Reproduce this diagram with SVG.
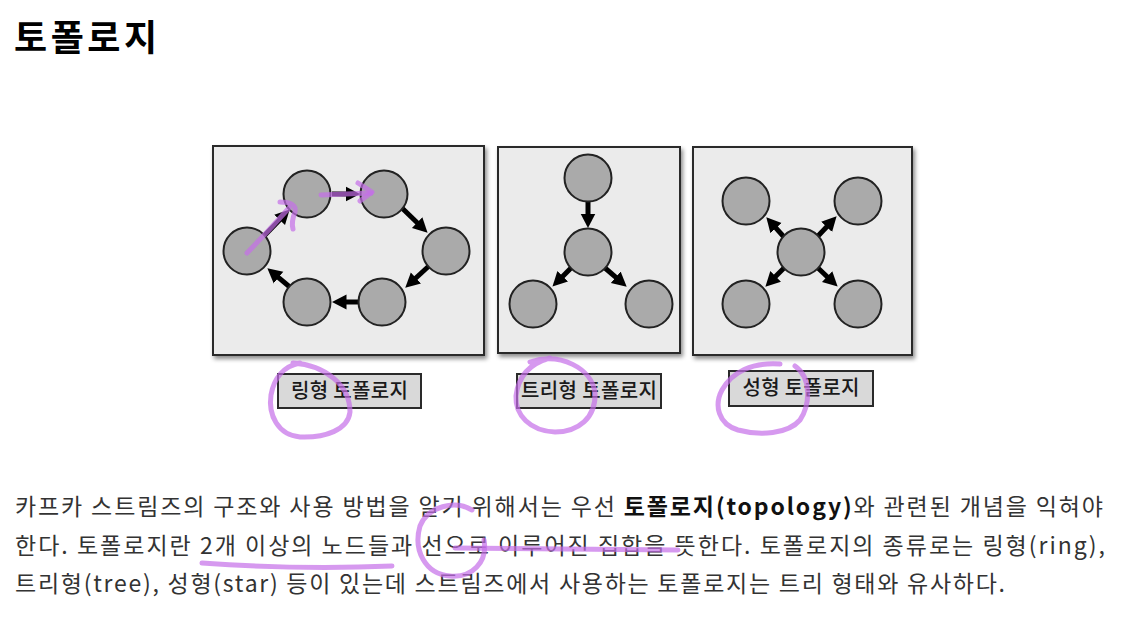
<svg xmlns="http://www.w3.org/2000/svg" width="1122" height="623" viewBox="0 0 1122 623">
<style>
.panel{fill:#ebebeb;stroke:#2a2a2a;stroke-width:2;filter:url(#sh)}
.node{fill:#aaaaaa;stroke:#222;stroke-width:2}
.arr{stroke:#000;stroke-width:5;fill:none;marker-end:url(#ah)}
.lbox{fill:#d9d9d9;stroke:#2a2a2a;stroke-width:2}
.ltxt{font-family:"Noto Sans CJK KR","Noto Sans",sans-serif;font-size:20px;font-weight:500;fill:#1a1a1a;text-anchor:middle}
.body{font-family:"Noto Sans CJK KR","Noto Sans",sans-serif;font-size:23px;fill:#333}
.title{font-family:"Noto Sans CJK KR","Noto Sans",sans-serif;font-size:36px;font-weight:bold;fill:#000}
.pen{fill:none;stroke:#c56ee8;stroke-opacity:0.7;stroke-width:5;stroke-linecap:round;stroke-linejoin:round}
</style>
<defs>
<filter id="sh" x="-10%" y="-10%" width="125%" height="125%">
<feDropShadow dx="2" dy="3" stdDeviation="2" flood-color="#000" flood-opacity="0.45"/>
</filter>
<marker id="ah" markerUnits="userSpaceOnUse" markerWidth="18" markerHeight="18" refX="3" refY="9" orient="auto">
<path d="M0,1.5 L14.5,9 L0,16.5 z" fill="#000"/>
</marker>
</defs>
<rect width="1122" height="623" fill="#fff"/>
<text class="title" x="14" y="51" textLength="143">토폴로지</text>

<g id="ring-panel">
<rect class="panel" x="213" y="146" width="271" height="209"/>
</g>
<g id="tree-panel">
<rect class="panel" x="498" y="147" width="182" height="206"/>
</g>
<g id="star-panel">
<rect class="panel" x="693" y="147" width="219" height="208"/>
</g>

<g id="connectors">
<line class="arr" x1="264" y1="236" x2="281.7" y2="217.7"/>
<line class="arr" x1="332" y1="194" x2="348.5" y2="194"/>
<line class="arr" x1="402" y1="208" x2="419.3" y2="224.7"/>
<line class="arr" x1="430" y1="265" x2="413.7" y2="280"/>
<line class="arr" x1="358" y1="302" x2="343.5" y2="302"/>
<line class="arr" x1="291" y1="288" x2="276.2" y2="275.7"/>
<line class="arr" x1="588" y1="202" x2="588" y2="216.5"/>
<line class="arr" x1="571" y1="268" x2="560.6" y2="278.4"/>
<line class="arr" x1="605" y1="268" x2="618" y2="279.2"/>
<line class="arr" x1="784" y1="237" x2="774" y2="225.9"/>
<line class="arr" x1="818" y1="236" x2="828.7" y2="224.7"/>
<line class="arr" x1="784" y1="268" x2="773.5" y2="278.5"/>
<line class="arr" x1="818" y1="268" x2="829.3" y2="278.7"/>
</g>

<g id="ring-nodes">
<circle id="r1" class="node" cx="307" cy="194" r="23.5"/>
<circle id="r2" class="node" cx="384" cy="194" r="23.5"/>
<circle id="r3" class="node" cx="446" cy="251" r="23.5"/>
<circle id="r4" class="node" cx="382" cy="302" r="23.5"/>
<circle id="r5" class="node" cx="307" cy="302" r="23.5"/>
<circle id="r6" class="node" cx="247" cy="251" r="23.5"/>
</g>
<g id="tree-nodes">
<circle id="t1" class="node" cx="588" cy="178" r="23.5"/>
<circle id="t2" class="node" cx="588" cy="252" r="23.5"/>
<circle id="t3" class="node" cx="533" cy="304" r="23.5"/>
<circle id="t4" class="node" cx="649" cy="304" r="23.5"/>
</g>
<g id="star-nodes">
<circle id="s1" class="node" cx="746" cy="201" r="23.5"/>
<circle id="s2" class="node" cx="858" cy="201" r="23.5"/>
<circle id="s0" class="node" cx="801" cy="252" r="23.5"/>
<circle id="s3" class="node" cx="746" cy="304" r="23.5"/>
<circle id="s4" class="node" cx="858" cy="304" r="23.5"/>
</g>

<g id="label-ring">
<rect class="lbox" x="278" y="374" width="143" height="34"/>
<text class="ltxt" x="349.5" y="398" textLength="117">링형 토폴로지</text>
</g>
<g id="label-tree">
<rect class="lbox" x="517" y="374" width="144" height="34"/>
<text class="ltxt" x="589" y="398" textLength="136">트리형 토폴로지</text>
</g>
<g id="label-star">
<rect class="lbox" x="729" y="371" width="144" height="35"/>
<text class="ltxt" x="801" y="395" textLength="117">성형 토폴로지</text>
</g>

<g id="body-text">
<text class="body" x="15" y="515" textLength="1088">카프카 스트림즈의 구조와 사용 방법을 알기 위해서는 우선 <tspan font-weight="bold" fill="#111">토폴로지(topology)</tspan>와 관련된 개념을 익혀야</text>
<text class="body" x="15" y="554" textLength="1090">한다. 토폴로지란 2개 이상의 노드들과 선으로 이루어진 집합을 뜻한다. 토폴로지의 종류로는 링형(ring),</text>
<text class="body" x="15" y="592" textLength="990">트리형(tree), 성형(star) 등이 있는데 스트림즈에서 사용하는 토폴로지는 트리 형태와 유사하다.</text>
</g>

<g id="annotations">
<path class="pen" d="M247,253 L268,231 L289,208"/>
<path class="pen" d="M280,202 Q297,202 295,212 Q291,222 293,229"/>
<path class="pen" d="M321,195 L371,193"/>
<path class="pen" d="M358,183 L372,192 L360,201"/>
<path class="pen" d="M293,363 C325,365 350,385 350,412 C348,430 325,438 300,437 C278,435 268,415 271,395 C274,378 284,366 300,363"/>
<path class="pen" d="M530,362 C560,352 592,368 595,393 C596,418 578,432 555,432 C530,431 515,415 516,396 C518,378 528,364 550,358"/>
<path class="pen" d="M795,366 C812,378 810,405 800,420 C788,434 760,436 738,430 C718,424 714,405 722,390 C732,372 752,362 780,364"/>
<path class="pen" d="M202,563 Q300,570 392,566"/>
<path class="pen" d="M472,510 C455,500 428,506 420,526 C413,550 425,574 450,576 C472,578 488,562 484,540"/>
<path class="pen" d="M455,548 L678,550"/>
</g>
</svg>
